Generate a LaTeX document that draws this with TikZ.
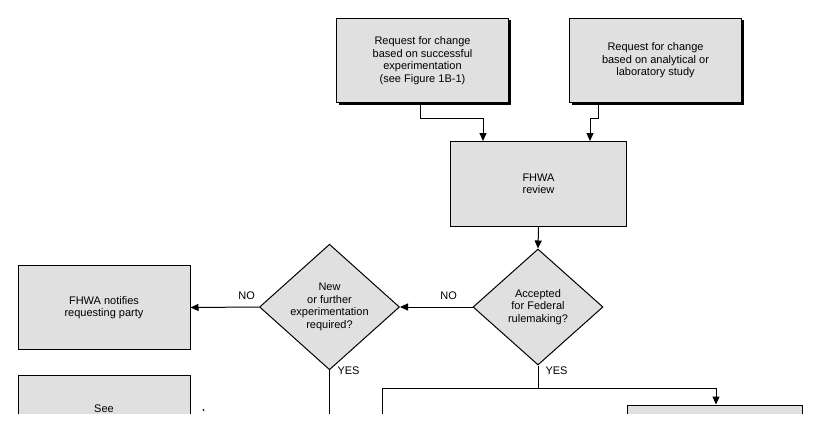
\documentclass[tikz,border=0pt]{standalone}
\usepackage{fontspec}
\setmainfont{Liberation Sans}
\usetikzlibrary{shapes.geometric,arrows.meta}
\begin{document}
\begin{tikzpicture}[x=1pt,y=-1pt,
  box/.style={draw,line width=1pt,fill=black!12,minimum width=172pt,minimum height=84pt,align=center,font=\fontsize{11}{12.5}\selectfont,
    postaction={}},
  shad/.style={fill=black,minimum width=172pt,minimum height=84pt,inner sep=0},
  dia/.style={draw,line width=1pt,fill=black!12,diamond,minimum width=140pt,minimum height=116pt,inner sep=0,align=center,font=\fontsize{11}{12.5}\selectfont},
  con/.style={line width=1pt,-{Triangle[length=8pt,width=7pt]}},
  lin/.style={line width=1pt},
  lab/.style={font=\fontsize{11}{12.5}\selectfont}]
\useasboundingbox (0,0) rectangle (819,428);
\begin{scope}
\clip (0,0) rectangle (819,413);
\node[shad] at (424.5,62.5) {};
\node[box] (a) at (422.5,60.5) {Request for change\\based on successful\\experimentation\\(see Figure 1B-1)};
\node[shad] at (657.5,62.5) {};
\node[box] (b) at (655.5,60.5) {Request for change\\based on analytical or\\laboratory study};
\node[box,minimum width=176pt,minimum height=85pt] (r) at (538.5,184) {FHWA\\review};
\node[dia,minimum width=130pt] (d1) at (538,307) {Accepted\\for Federal\\rulemaking?};
\node[dia] (d2) at (329.5,307) {New\\or further\\experimentation\\required?};
\node[box] (n) at (104,307.5) {FHWA notifies\\requesting party};
\node[box] (s) at (104,417) {See\\\strut};
\node[box,minimum width=175pt] (t) at (715,447) {};
\coordinate (ja) at (420,118);
\coordinate (jb) at (598,118);
\draw[con] (a.south -| ja) -- (ja) -- (483,118) -- (483,141);
\draw[con] (b.south -| jb) -- (jb) -- (590,118) -- (590,141);
\draw[con] (r.south) -- (d1.north);
\draw[con] (d1.west) -- (d2.east) node[lab,pos=0.33,above=4pt] {NO};
\draw[con] (d2.west) -- (n.east) node[lab,pos=0.18,above=4pt] {NO};
\draw[lin] (d2.south) -- (329.5,420);
\node[lab,anchor=west] at (334,371) {YES};
\node[lab,anchor=west] at (542,371) {YES};
\coordinate (h) at (538,388);
\draw[lin] (d1.south) -- (h);
\draw[lin] (382,420) -- (382,388) -- (716,388);
\draw[con] (716,388) -- (t.north -| 716,0);
\draw[lin] (203,409) -- (204,411);
\end{scope}
\end{tikzpicture}
\end{document}
